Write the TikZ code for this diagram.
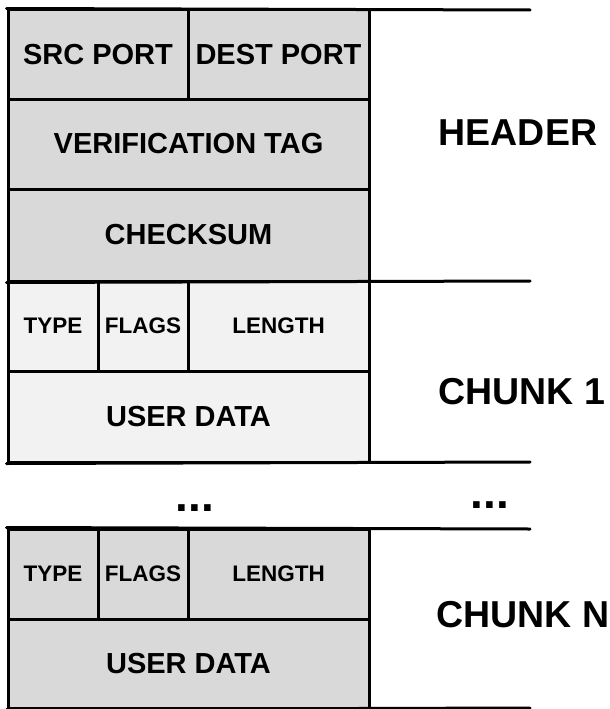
\documentclass[tikz,border=0pt]{standalone}
\usepackage{fontspec}
\setmainfont{Liberation Sans}
\begin{document}
\begin{tikzpicture}[x=1pt,y=-1pt,
  cell/.style={draw=black, line width=3pt, inner sep=0pt, anchor=center,
               font=\bfseries\fontsize{29}{31}\selectfont},
  small/.style={cell, font=\bfseries\fontsize{22.5}{25}\selectfont},
  hdrfill/.style={fill=black!15},
  chkfill/.style={fill=black!5},
  rule/.style={line width=3pt},
  tag/.style={font=\bfseries\fontsize{37.5}{40}\selectfont, inner sep=0pt, anchor=center},
  dots/.style={font=\bfseries\fontsize{46}{48}\selectfont, inner sep=0pt, anchor=base}]
\useasboundingbox (0,0) rectangle (610,709);

% common header
\node[cell, hdrfill, minimum width=180pt, minimum height=89pt] (src)  at (98,54.5)   {SRC PORT};
\node[cell, hdrfill, minimum width=181pt, minimum height=89pt] (dst)  at (278.5,54.5) {DEST PORT};
\node[cell, hdrfill, minimum width=361pt, minimum height=90pt] (ver)  at (188.5,144) {VERIFICATION TAG};
\node[cell, hdrfill, minimum width=361pt, minimum height=92pt] (chk)  at (188.5,235) {CHECKSUM};

% first chunk
\node[small, chkfill, minimum width=90pt,  minimum height=90pt] (typeA)  at (53,326)    {TYPE};
\node[small, chkfill, minimum width=90pt,  minimum height=90pt] (flagA)  at (143,326)   {FLAGS};
\node[small, chkfill, minimum width=181pt, minimum height=90pt] (lenA)   at (278.5,326) {LENGTH};
\node[cell,  chkfill, minimum width=361pt, minimum height=91pt] (dataA)  at (188.5,416.5) {USER DATA};

% last chunk
\node[small, hdrfill, minimum width=90pt,  minimum height=90pt] (typeN)  at (53,574)    {TYPE};
\node[small, hdrfill, minimum width=90pt,  minimum height=90pt] (flagN)  at (143,574)   {FLAGS};
\node[small, hdrfill, minimum width=181pt, minimum height=90pt] (lenN)   at (278.5,574) {LENGTH};
\node[cell,  hdrfill, minimum width=361pt, minimum height=89pt] (dataN)  at (188.5,663.5) {USER DATA};

% section boundaries running out to the right
\coordinate (e0) at (530,10);
\coordinate (e1) at (530,281);
\coordinate (e2) at (530,462);
\coordinate (e3) at (530,529);
\coordinate (e4) at (530,708);
\draw[rule, line cap=round] (src.north west) -- (e0);
\draw[rule, line cap=round] (chk.south west) -- (e1);
\draw[rule, line cap=round] (dataA.south west) -- (e2);
\draw[rule, line cap=round] (typeN.north west) -- (e3);
\draw[rule, line cap=round] (dataN.south west) -- (e4);

% section names
\node[tag] (lblH) at (518,133) {HEADER};
\node[tag] (lbl1) at (522,392) {CHUNK 1};
\node[tag] (lblN) at (523,615) {CHUNK N};

% elided chunks
\node[dots] (dotL) at (195,511.5) {...};
\node[dots] (dotR) at (490,508) {...};
\end{tikzpicture}
\end{document}
